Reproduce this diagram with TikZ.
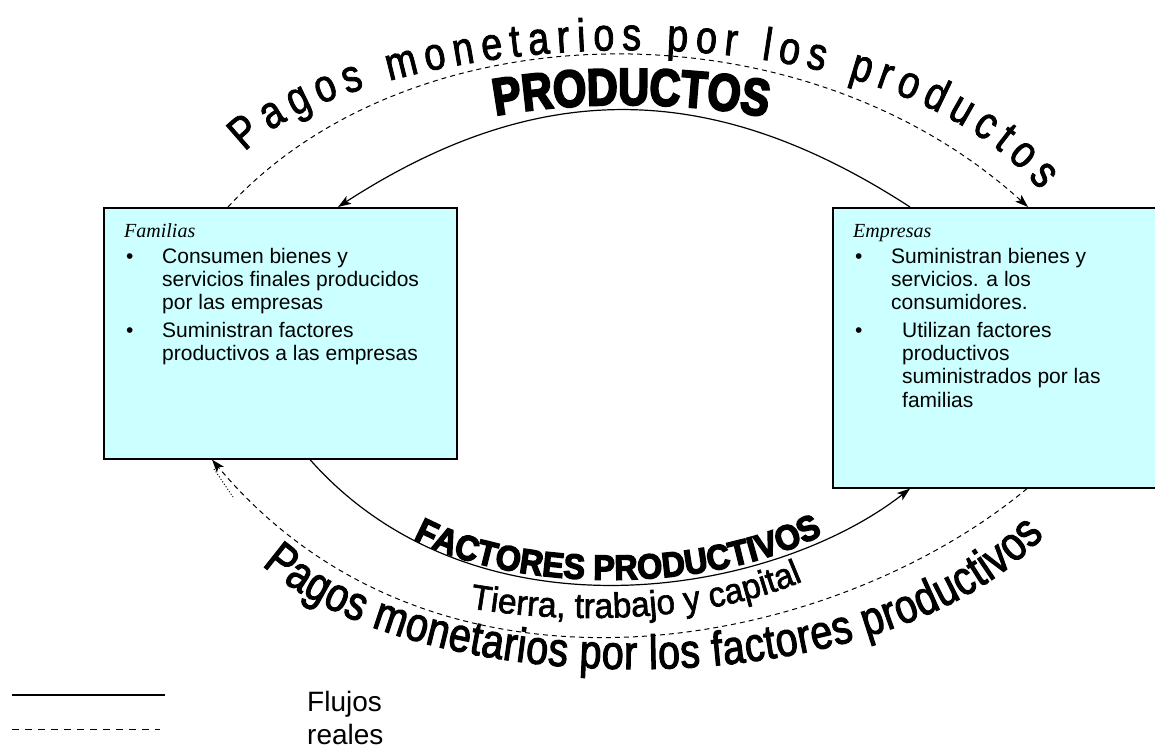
\documentclass[tikz,border=0pt]{standalone}
\usepackage{fontspec}
\setmainfont{Liberation Sans}
\newfontfamily\serifit{Liberation Serif}
\newfontfamily\toparcfont{Liberation Sans}[FakeBold=1.8, FakeStretch=0.82]
\newfontfamily\botarcfont{Liberation Sans}[FakeBold=2.2, FakeStretch=0.82]
\newfontfamily\tierrafont{Liberation Sans}[FakeBold=1.8, FakeStretch=0.95]
\newfontfamily\heavy{Liberation Sans Bold}[FakeBold=4, FakeStretch=0.82]
\newfontfamily\heavyB{Liberation Sans Bold}[FakeBold=4, FakeStretch=0.92]
\usetikzlibrary{decorations.text, arrows.meta, calc}
\definecolor{boxfill}{HTML}{CCFFFF}
\begin{document}
\begin{tikzpicture}[x=1pt,y=-1pt,
  box/.style={draw=black, line width=1.6pt, fill=boxfill, anchor=north west, inner sep=0pt},
  flow/.style={line width=1.2pt},
  money/.style={line width=1pt, dash pattern=on 5pt off 4pt},
  tip/.style={-{Stealth[length=13pt,width=9pt,inset=3pt]}},
  boxtext/.style={anchor=base west, inner sep=0pt, font=\fontsize{21}{23.3}\selectfont},
  legendtext/.style={anchor=base west, inner sep=0pt, font=\fontsize{28}{30}\selectfont}]
\useasboundingbox (0,0) rectangle (1155,753);

% boxes
\node[box, minimum width=353pt, minimum height=251pt] (fam) at (103,207) {};
\node[box, minimum width=340pt, minimum height=280pt] (emp) at (832,207) {};

\node[boxtext] (famtxt) at (124,237) {\begin{tabular}[t]{@{}p{38pt}@{}l@{}}
\multicolumn{2}{@{}l@{}}{\serifit\itshape\fontsize{20}{22}\selectfont Familias}\\[3pt]
\hspace*{2pt}• & Consumen bienes y\\
 & servicios finales producidos\\
 & por las empresas\\[4pt]
\hspace*{2pt}• & Suministran factores\\
 & productivos a las empresas
\end{tabular}};

\node[boxtext] (emptxt) at (853,237) {\begin{tabular}[t]{@{}p{38pt}@{}l@{}}
\multicolumn{2}{@{}l@{}}{\serifit\itshape\fontsize{20}{22}\selectfont Empresas}\\[3pt]
\hspace*{2pt}• & Suministran bienes y\\
 & servicios. a los\\
 & consumidores.\\[4pt]
\hspace*{2pt}• & \hspace*{11pt}Utilizan factores\\
 & \hspace*{11pt}productivos\\
 & \hspace*{11pt}suministrados por las\\
 & \hspace*{11pt}familias
\end{tabular}};

% attach points
\coordinate (ts0) at ($(emp.north west)+(78,0)$);
\coordinate (ts3) at ($(fam.north west)+(235,0)$);
\coordinate (td0) at ($(fam.north west)+(125,0)$);
\coordinate (td3) at ($(emp.north west)+(196,0)$);
\coordinate (bs0) at ($(fam.south west)+(207,0)$);
\coordinate (bs3) at ($(emp.south west)+(78,0)$);
\coordinate (bd0) at ($(emp.south west)+(195,0)$);
\coordinate (bd3) at ($(fam.south west)+(109,0)$);

% connectors
\draw[flow, tip] (ts0) .. controls (716,81) and (542,75) .. (ts3);
\draw[money, tip] (td0) .. controls (410,9) and (798,-1) .. (td3);
\draw[flow, tip] (bs0) .. controls (475,646) and (771,597) .. (bs3);
\draw[money, tip] (bd0) .. controls (830,652) and (437,728) .. (bd3);
\coordinate (dot0) at (214,469);
\coordinate (dot1) at (233,497);
\draw[line width=1pt, dotted] (dot0) -- (dot1);

% curved texts
\path[decorate, decoration={text along path, text align=fit to path,
  text={|\toparcfont\fontsize{46}{48}\selectfont|Pagos monetarios por los productos}}]
  (245,152) .. controls (350,40) and (860,-20) .. (1040,190);
\path[decorate, decoration={text along path, text align=center,
  text={|\heavy\fontsize{52}{54}\selectfont|PRODUCTOS}}]
  (470,121) .. controls (560,99) and (700,99) .. (792,123);
\path[decorate, decoration={text along path, text align=center,
  text={|\heavyB\fontsize{35}{37}\selectfont|FACTORES PRODUCTIVOS}}]
  (398,530) .. controls (500,596) and (720,598) .. (838,526);
\path[decorate, decoration={text along path, text align=center,
  text={|\tierrafont\fontsize{35}{37}\selectfont|Tierra, trabajo y capital}}]
  (440,602) .. controls (540,626) and (720,629) .. (830,568);
\path[decorate, decoration={text along path, text align=fit to path,
  text={|\botarcfont\fontsize{48}{50}\selectfont|Pagos monetarios por los factores productivos}}]
  (262,565) .. controls (420,705) and (880,712) .. (1044,536);

% legend
\coordinate (l1a) at (12,695);
\coordinate (l1b) at (165,695);
\coordinate (l2a) at (12,729);
\coordinate (l2b) at (160,729);
\draw[line width=1.2pt] (l1a) -- (l1b);
\draw[line width=1pt, dash pattern=on 7pt off 6pt] (l2a) -- (l2b);
\node[legendtext] (lg1) at (307,711) {Flujos};
\node[legendtext] (lg2) at (307,744) {reales};
\end{tikzpicture}
\end{document}
